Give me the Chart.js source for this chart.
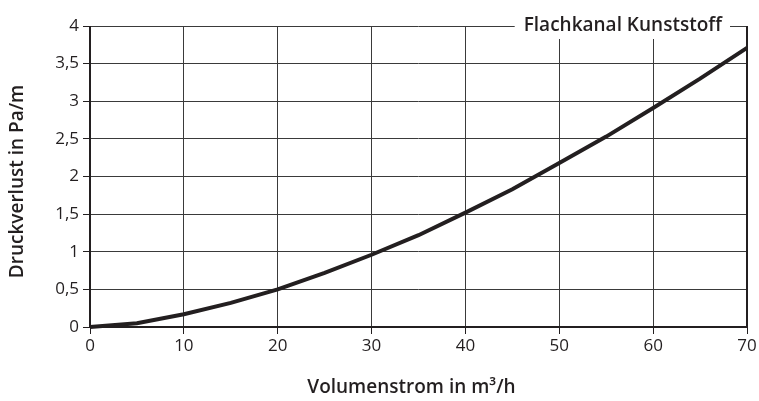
<!DOCTYPE html>
<html>
<head>
<meta charset="utf-8">
<script src="https://cdn.jsdelivr.net/npm/chart.js@4"></script>
<style>
  html, body { margin: 0; padding: 0; background: #fff; }
  #wrap { width: 759px; height: 401px; }
</style>
</head>
<body>
<div id="wrap"><canvas id="chart" width="759" height="401"></canvas></div>
<script>
// Volumenstrom (m³/h) and Druckverlust (Pa/m)
const flow = [0, 5, 10, 15, 20, 25, 30, 35, 40, 45, 50, 55, 60, 65, 70];
const pressure = [0, 0.05, 0.17, 0.32, 0.5, 0.72, 0.96, 1.22, 1.52, 1.83, 2.18, 2.53, 2.91, 3.3, 3.71];
const xTicks = [0, 10, 20, 30, 40, 50, 60, 70];
const yTicks = [0, 0.5, 1, 1.5, 2, 2.5, 3, 3.5, 4];

const seriesName = 'Flachkanal Kunststoff';
const xTitle = 'Volumenstrom in m³/h';
const yTitle = 'Druckverlust in Pa/m';

const FONT = '"Open Sans", "DejaVu Sans", sans-serif';
const INK = '#231f20';

// draws axis titles, the frame and the boxed series label
const decorations = {
    id: 'decorations',
    afterDraw(chart) {
        const { ctx, chartArea } = chart;
        ctx.save();

        // frame: thick left/bottom axes, right edge
        ctx.strokeStyle = INK;
        ctx.lineWidth = 2;
        ctx.beginPath();
        ctx.moveTo(chartArea.left, chartArea.top);
        ctx.lineTo(chartArea.left, chartArea.bottom);
        ctx.lineTo(chartArea.right, chartArea.bottom);
        ctx.lineTo(chartArea.right, chartArea.top);
        ctx.stroke();

        // series label sitting on the top border
        ctx.font = '600 19px ' + FONT;
        const w = ctx.measureText(seriesName).width;
        const tx = chartArea.right - 25 - w;
        ctx.fillStyle = '#fff';
        ctx.fillRect(tx - 9, chartArea.top - 13, w + 17, 26);
        ctx.fillStyle = INK;
        ctx.textBaseline = 'middle';
        ctx.textAlign = 'left';
        ctx.fillText(seriesName, tx, chartArea.top);

        // axis titles
        ctx.font = '600 19px ' + FONT;
        ctx.textAlign = 'center';
        ctx.fillText(xTitle, (chartArea.left + chartArea.right) / 2 - 7, 388);
        ctx.translate(18, (chartArea.top + chartArea.bottom) / 2 + 5);
        ctx.rotate(-Math.PI / 2);
        ctx.fillText(yTitle, 0, 0);
        ctx.restore();
    }
};

const ctx = document.getElementById('chart').getContext('2d');
new Chart(ctx, {
    type: 'line',
    data: {
        datasets: [{
            label: seriesName,
            data: flow.map((x, i) => ({ x: x, y: pressure[i] })),
            borderColor: INK,
            borderWidth: 4,
            tension: 0,
            pointRadius: 0,
            fill: false,
            clip: false
        }]
    },
    options: {
        responsive: false,
        animation: false,
        devicePixelRatio: 1,
        layout: { padding: { top: 26, right: 12, left: 0, bottom: 0 } },
        plugins: {
            legend: { display: false },
            tooltip: { enabled: false }
        },
        scales: {
            x: {
                type: 'linear',
                min: 0,
                max: 70,
                afterBuildTicks: scale => { scale.ticks = xTicks.map(v => ({ value: v })); },
                afterFit: scale => { scale.height = 74; },
                grid: { color: '#3a3a3a', lineWidth: 1, tickLength: 7, tickColor: INK },
                border: { display: false },
                ticks: {
                    color: INK,
                    font: { family: FONT, size: 17 },
                    padding: 2,
                    maxRotation: 0
                }
            },
            y: {
                type: 'linear',
                min: 0,
                max: 4,
                afterBuildTicks: scale => { scale.ticks = yTicks.map(v => ({ value: v })); },
                afterFit: scale => { scale.width = 90; },
                grid: { color: '#3a3a3a', lineWidth: 1, tickLength: 7, tickColor: INK },
                border: { display: false },
                ticks: {
                    color: INK,
                    font: { family: FONT, size: 17 },
                    padding: 4,
                    callback: v => String(v).replace('.', ',')
                }
            }
        }
    },
    plugins: [decorations]
});
</script>
</body>
</html>
